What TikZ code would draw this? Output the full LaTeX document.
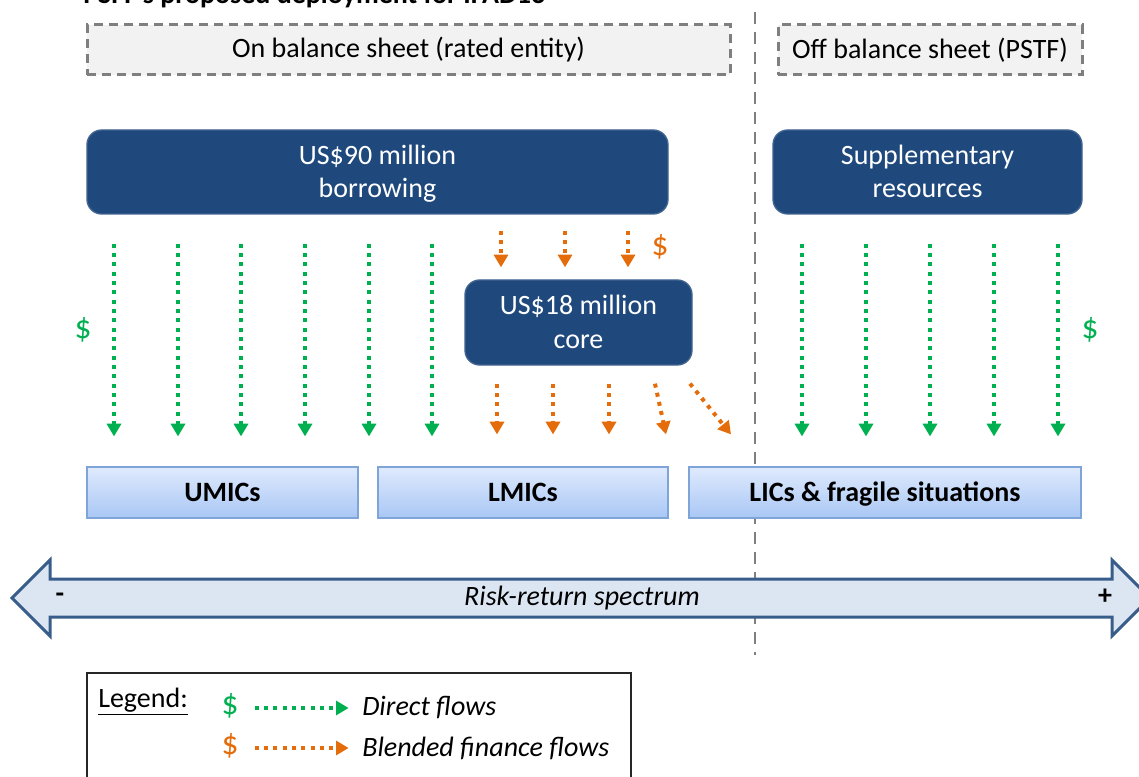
\documentclass[tikz,border=0pt]{standalone}
\usepackage{fontspec}
\setmainfont{Carlito}
\usetikzlibrary{arrows.meta, calc}

\definecolor{navy}{HTML}{1F497D}
\definecolor{flowgreen}{HTML}{00B050}
\definecolor{floworange}{HTML}{E46C0A}
\definecolor{sheetgray}{HTML}{7F7F7F}
\definecolor{spectrumfill}{HTML}{DCE6F2}
\definecolor{spectrumedge}{HTML}{385D8A}
\definecolor{grouptop}{HTML}{DFEAFD}
\definecolor{groupbottom}{HTML}{A9C7F5}
\definecolor{groupedge}{HTML}{7FA5D8}

\tikzset{
    sheet/.style={draw=sheetgray, fill=black!5, line width=2.25pt, dash pattern=on 6.75pt off 4.5pt, minimum height=37.5pt, inner sep=0pt},
    pool/.style={draw=navy!85!white, fill=navy, line width=1pt, rounded corners=11pt, text=white, align=center, inner sep=0pt, text depth=1pt},
    group/.style={draw=groupedge, top color=grouptop, bottom color=groupbottom, line width=0.9pt, minimum height=38.25pt, inner sep=0pt, text height=16.5pt, text depth=3pt, font=\fontsize{21}{25}\selectfont\bfseries},
    flow/.style={line width=3pt, dash pattern=on 3pt off 4pt, -{Triangle[length=9.5pt, width=10.5pt]}},
    direct/.style={flow, draw=flowgreen, color=flowgreen},
    blended/.style={flow, draw=floworange, color=floworange},
    dollar/.style={font=\fontsize{25}{25}\selectfont},
}

\begin{document}
\begin{tikzpicture}[x=0.75pt, y=-0.75pt, font=\fontsize{21}{25}\selectfont]
    \useasboundingbox (0,0) rectangle (1139,777);

    % title, cut by the top edge
    \node [anchor=base west, inner sep=0pt, font=\fontsize{21}{25}\selectfont\bfseries] (title) at (83,4) {PSFF's proposed deployment for IFAD13};

    % divider between the two sheets
    \draw [sheetgray, line width=1.8pt, dash pattern=on 9pt off 6pt] (755,12) -- (755,655);

    \node [sheet, minimum width=482.25pt] (onbs) at (408.5,50) {On balance sheet (rated entity)};
    \node [sheet, minimum width=228pt] (offbs) at (930,50) {Off balance sheet (PSTF)};

    \node [pool, minimum width=435.75pt, minimum height=63pt] (borrow) at (377.5,172) {US\$90 million\\borrowing};
    \node [pool, minimum width=231.75pt, minimum height=63pt] (supp) at (927.5,172) {Supplementary\\resources};
    \node [pool, minimum width=170.25pt, minimum height=63.75pt] (core) at (578.5,322.5) {US\$18 million\\core};

    \node [group, minimum width=203.25pt] (umic) at (222.5,492.5) {UMICs};
    \node [group, minimum width=217.5pt] (lmic) at (523,492.5) {LMICs};
    \node [group, minimum width=294pt] (lic) at (885,492.5) {LICs \& fragile situations};

    % direct flows
    \foreach \x in {114,178,241,305,369,432}
        \draw [direct, shorten <=21.75pt, shorten >=22.5pt] (borrow.south -| \x,0) -- (umic.north -| \x,0);
    \foreach \x in {802,866,930,994,1058}
        \draw [direct, shorten <=21.75pt, shorten >=22.5pt] (supp.south -| \x,0) -- (lic.north -| \x,0);
    \node [dollar, text=flowgreen] (dleft) at (83,330) {\$};
    \node [dollar, text=flowgreen] (dright) at (1090,330) {\$};

    % blended flows
    \foreach \x in {501,565,628}
        \draw [blended, shorten <=12pt, shorten >=9pt] (borrow.south -| \x,0) -- (core.north -| \x,0);
    \node [dollar, text=floworange] (btop) at (660,247) {\$};
    \foreach \x in {497,553,609}
        \draw [blended, shorten <=13.5pt, shorten >=24pt] (core.south -| \x,0) -- (lmic.north -| \x,0);
    \draw [blended] ($(core.south -| 655,0)+(0,18)$) -- ($(lmic.north -| 666,0)+(0,-32)$);
    \draw [blended] ($(core.south -| 690,0)+(0,18)$) -- ($(lic.north -| 731,0)+(0,-32)$);

    % risk-return spectrum
    \draw [spectrumedge, fill=spectrumfill, line width=2.25pt, line join=miter]
        (12,598) -- (50,560) -- (50,579) -- (1112,579) -- (1112,560) -- (1150,598)
        -- (1112,636) -- (1112,617) -- (50,617) -- (50,636) -- cycle;
    \node [font=\fontsize{21}{25}\selectfont\itshape] (spectrum) at (582,598) {Risk-return spectrum};
    \node [font=\fontsize{21}{25}\selectfont\bfseries] (minus) at (60,598) {-};
    \node [font=\fontsize{21}{25}\selectfont\bfseries] (plus) at (1105,597) {+};

    % legend
    \draw [black!85, line width=0.9pt] (87,673) rectangle (631,800);
    \node [anchor=west, inner sep=0pt] (legend) at (98,702) {\underline{Legend:}};
    \node [dollar, text=flowgreen, inner sep=0pt] (lgreen) at (230,706) {\$};
    \node [anchor=west, inner sep=0pt, font=\fontsize{21}{25}\selectfont\itshape] (ldirect) at (362,708) {Direct flows};
    \node [dollar, text=floworange, inner sep=0pt] (lorange) at (230,746) {\$};
    \node [anchor=west, inner sep=0pt, font=\fontsize{21}{25}\selectfont\itshape] (lblended) at (362,748) {Blended finance flows};
    \draw [direct, shorten <=12pt, shorten >=10pt] (lgreen.east |- ldirect.west) -- (ldirect.west);
    \draw [blended, shorten <=12pt, shorten >=10pt] (lorange.east |- lblended.west) -- (lblended.west);
\end{tikzpicture}
\end{document}
